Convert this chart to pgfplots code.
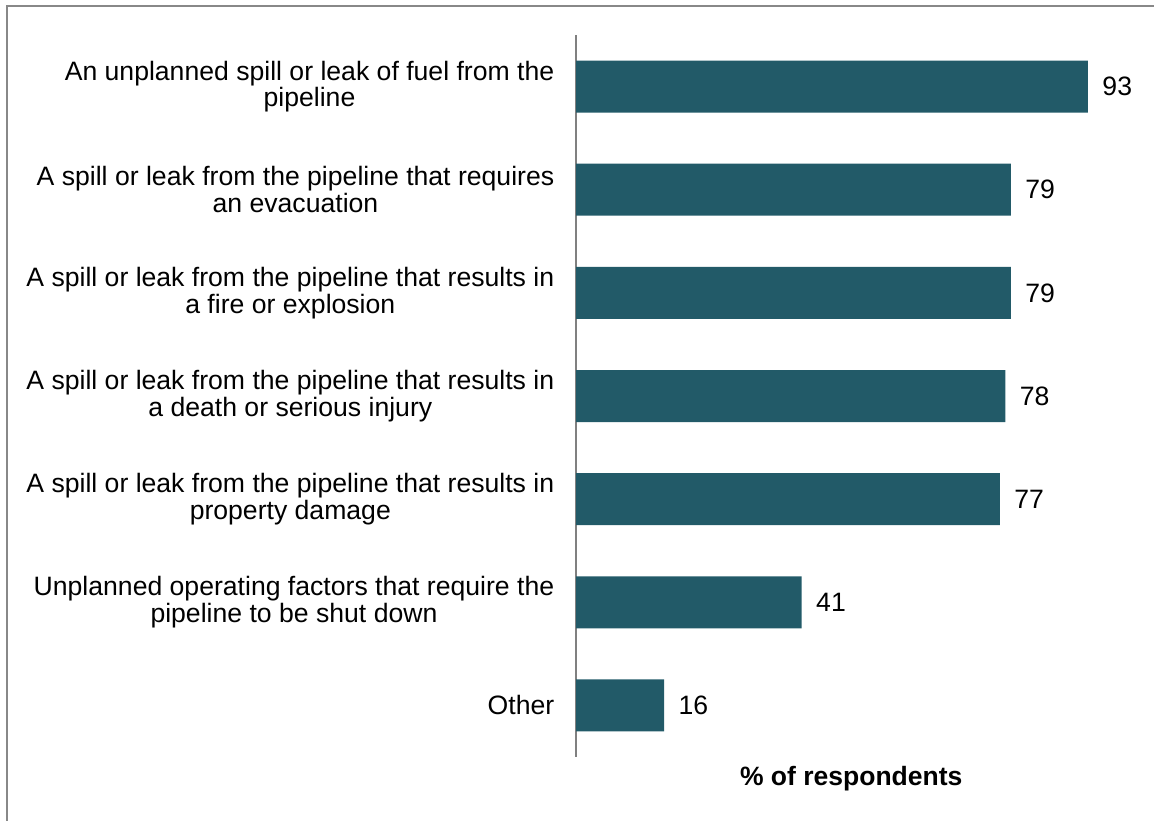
\documentclass[border=0pt]{standalone}
\usepackage{pgfplots}
\pgfplotsset{compat=1.18}
\usepackage{fontspec}
\setmainfont{Liberation Sans}
\definecolor{barcol}{HTML}{225A68}
\definecolor{framecol}{HTML}{888888}
\begin{document}
\begin{tikzpicture}
\path[use as bounding box] (0,0) rectangle (1154bp,821bp);
\draw[framecol, line width=1.5bp] (7bp,0) -- (7bp,815bp) -- (1154bp,815bp);
\begin{axis}[
  at={(576bp,64bp)}, anchor=south west,
  scale only axis,
  width=550.5bp, height=722bp,
  xmin=0, xmax=100,
  ymin=-0.5, ymax=6.5,
  y dir=reverse,
  xbar, bar width=52bp,
  axis x line=none,
  axis y line*=left,
  y axis line style={draw=gray, line width=1.2bp},
  xtick=\empty,
  ytick={0,1,2,3,4,5,6},
  yticklabels={
    {An unplanned spill or leak of fuel from the\\pipeline},
    {A spill or leak from the pipeline that requires\\an evacuation},
    {A spill or leak from the pipeline that results in\\a fire or explosion},
    {A spill or leak from the pipeline that results in\\a death or serious injury},
    {A spill or leak from the pipeline that results in\\property damage},
    {Unplanned operating factors that require the\\pipeline to be shut down},
    {Other}},
  ytick style={draw=none},
  yticklabel style={align=center, font=\fontsize{26.7}{27}\selectfont, xshift=-14bp},
  clip=false,
  nodes near coords,
  /pgf/number format/assume math mode=true,
  nodes near coords style={font=\fontsize{26.7}{27}\selectfont, xshift=11bp, black},
  every node near coord/.append style={anchor=west},
]
\addplot[fill=barcol, draw=none] coordinates {
(93,0) (79,1) (79,2) (78,3) (77,4) (41,5) (16,6)};
\node[font=\bfseries\fontsize{26.6}{27}\selectfont, anchor=base] at (rel axis cs:0.5,0) [yshift=-28bp] {\% of respondents};
\end{axis}
\end{tikzpicture}
\end{document}
